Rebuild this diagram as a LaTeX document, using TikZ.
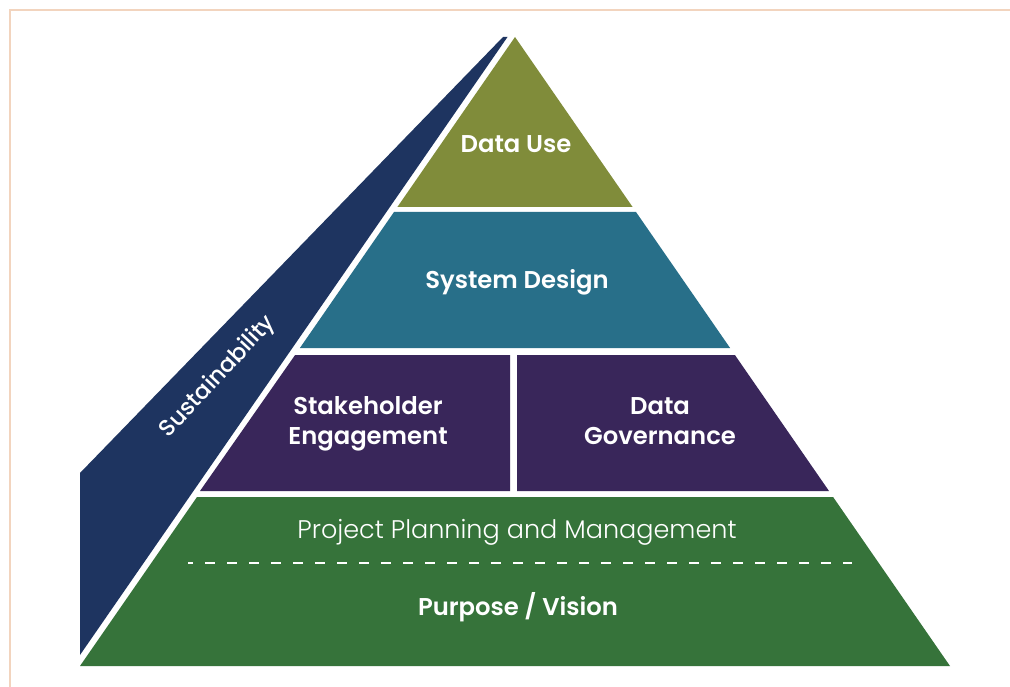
\documentclass[tikz,border=0pt]{standalone}
\usepackage{fontspec}
\setmainfont{Poppins}[BoldFont=* SemiBold]
\newfontfamily\poplight{Poppins}[UprightFont=* Light]
\newfontfamily\popmed{Poppins}[UprightFont=* Medium]
\definecolor{duolive}{RGB}{128,140,58}
\definecolor{duteal}{RGB}{40,111,137}
\definecolor{dupurple}{RGB}{57,38,90}
\definecolor{dugreen}{RGB}{54,115,58}
\definecolor{dunavy}{RGB}{30,52,96}
\definecolor{duborder}{RGB}{242,212,190}
\begin{document}
\begin{tikzpicture}[x=1pt,y=-1pt,
  lbl/.style={text=white,font=\bfseries\fontsize{24.3}{30}\selectfont,align=center,inner sep=0pt},
  thinlbl/.style={text=white,font=\poplight\fontsize{25.5}{30}\selectfont,inner sep=0pt}]
\useasboundingbox (0,0) rectangle (1010,687);
\fill[white] (0,0) rectangle (1010,687);
\draw[duborder,line width=2.5pt] (10,687) -- (10,10) -- (1010,10);
% sustainability band
\fill[dunavy] (80,655) -- (80,473) -- (503,37) -- (507.5,37) -- cycle;
% layers
\fill[duolive] (515,37) -- (632.6,207) -- (397.4,207) -- cycle;
\fill[duteal] (394,212) -- (636,212) -- (730.1,348) -- (299.9,348) -- cycle;
\fill[dupurple] (295.1,355) -- (510,355) -- (510,491) -- (200,491) -- cycle;
\fill[dupurple] (517,355) -- (734.9,355) -- (829,491) -- (517,491) -- cycle;
\fill[dugreen] (197,497) -- (833.1,497) -- (950,666) -- (80,666) -- cycle;
\draw[white,line width=2pt,dash pattern=on 10pt off 12pt,dash phase=5pt] (188,563) -- (852,563);
% labels
\node[lbl,anchor=base] (datause) at (516,153) {Data Use};
\node[lbl,anchor=base] (sysdesign) at (517,288.5) {System Design};
\node[lbl] (stake) at (368,424) {Stakeholder\\Engagement};
\node[lbl] (gov) at (660,421.5) {Data\\Governance};
\node[thinlbl,anchor=base] (ppm) at (517,538) {Project Planning and Management};
\node[lbl,anchor=base] (purpose) at (518,615) {Purpose / Vision};
\node[text=white,font=\popmed\fontsize{23}{24}\selectfont,rotate=47,inner sep=0pt] (sust) at (218,377) {Sustainability};
\end{tikzpicture}
\end{document}
